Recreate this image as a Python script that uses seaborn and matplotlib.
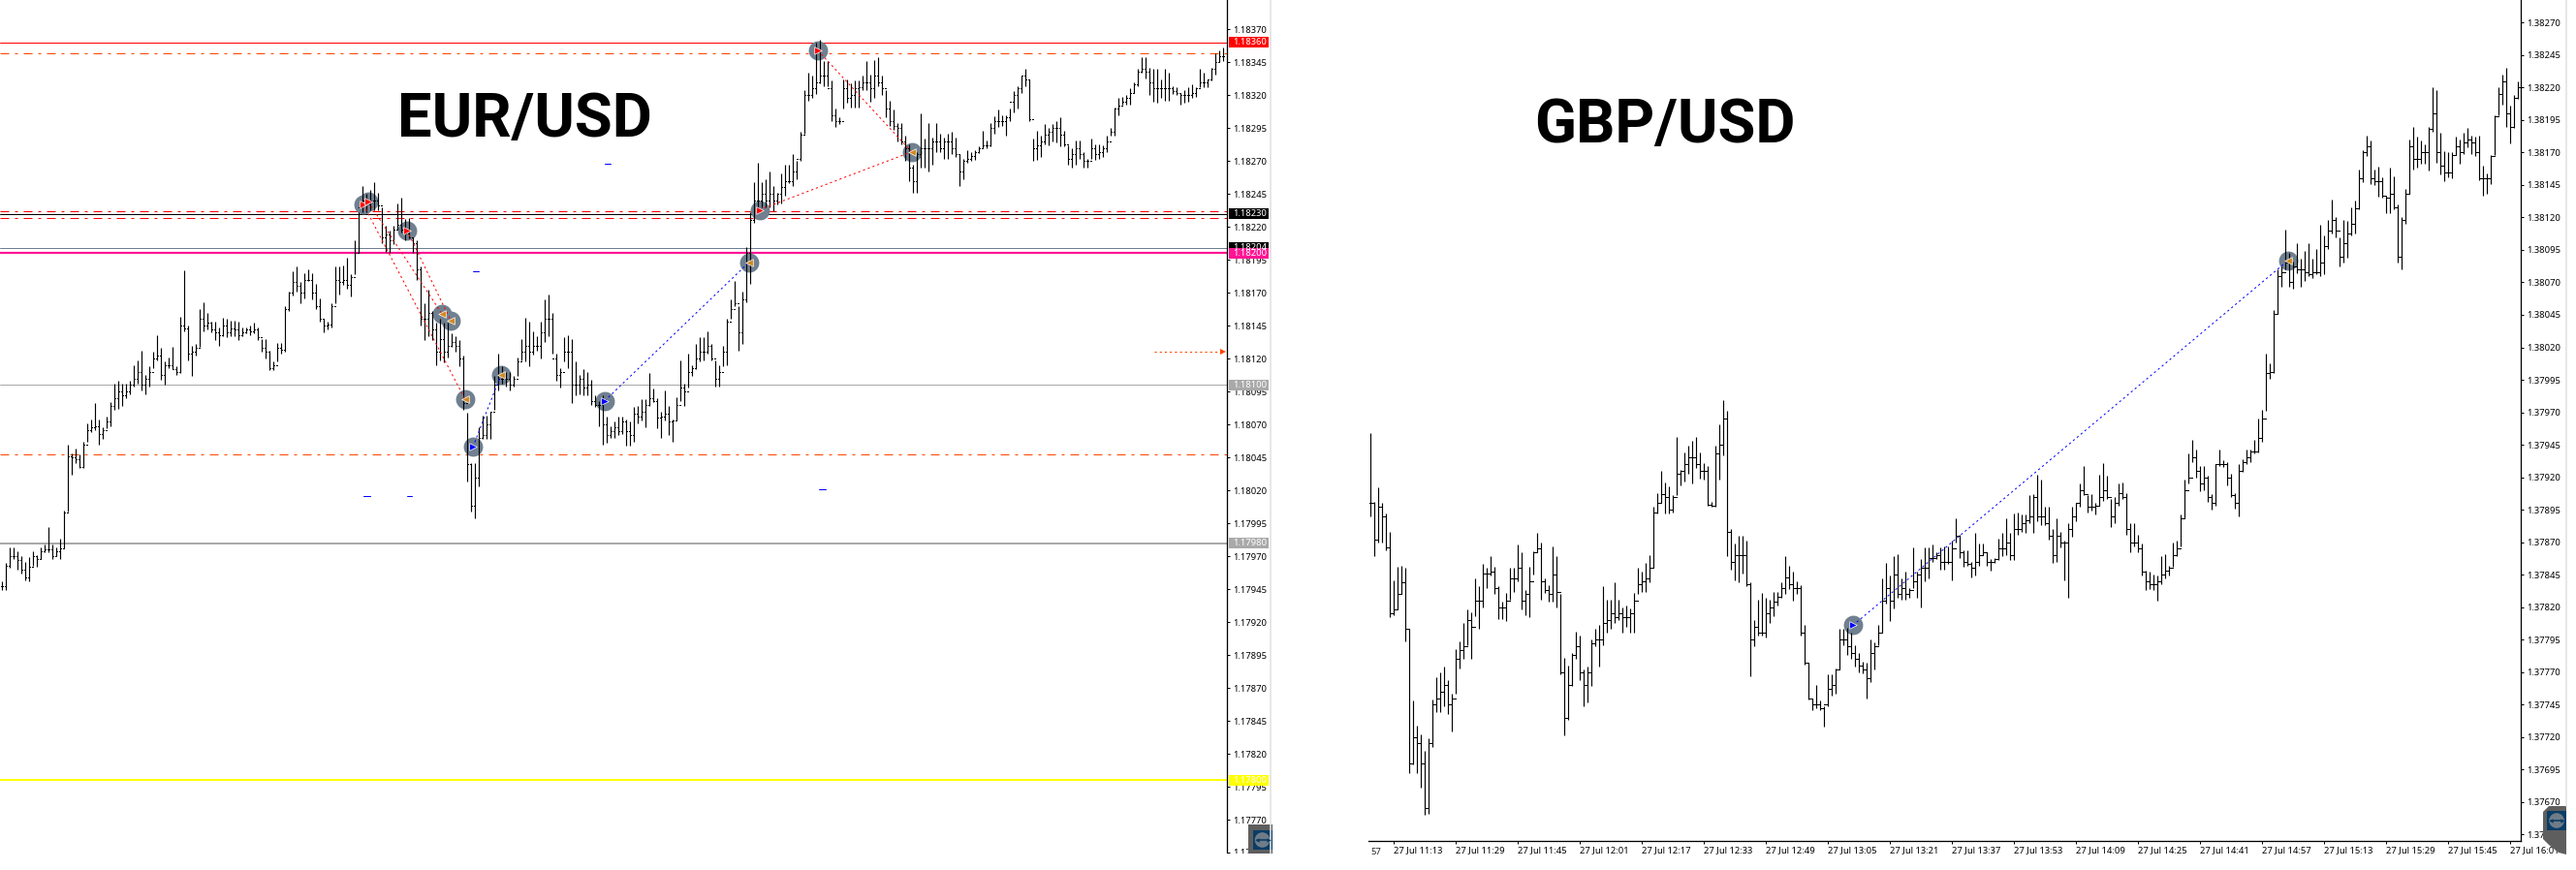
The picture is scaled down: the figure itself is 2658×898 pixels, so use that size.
import numpy as np
import pandas as pd
import matplotlib
matplotlib.use("Agg")
import matplotlib.pyplot as plt
from matplotlib.patches import Rectangle, Circle, Polygon
import seaborn as sns

W, H = 2658, 898

# EUR/USD bars: points above 1.18000
eur_high = [-49,-35,-23,-23,-26,-30,-34,-31,-26,-29,
 -23,-21,-8,-21,-23,-17,5,55,48,52,
 47,57,71,74,86,74,68,76,87,101,
 103,101,101,103,115,119,126,108,114,125,
 138,128,118,121,129,114,152,187,145,130,
 131,158,163,155,148,148,144,151,150,149,
 149,148,144,144,145,147,144,135,135,126,
 118,132,132,160,171,186,190,178,185,188,
 185,177,166,150,148,162,190,190,191,197,
 184,210,231,251,245,248,254,246,235,221,
 217,221,238,242,226,227,212,210,190,162,
 172,156,147,150,147,147,139,137,134,122,
 79,41,41,68,77,77,80,107,124,114,
 110,110,107,121,135,151,148,141,137,148,
 165,169,155,124,113,136,138,135,118,108,
 112,110,104,92,88,92,76,69,72,76,
 76,74,72,83,84,89,89,109,97,90,
 80,96,84,74,91,119,101,124,115,131,
 136,136,141,131,119,115,130,150,165,179,
 160,171,205,231,254,269,254,256,262,251,
 246,261,267,267,275,270,292,324,337,335,
 360,362,346,346,331,310,303,332,332,329,
 331,331,335,346,336,347,349,335,324,316,
 309,299,299,289,283,267,277,306,287,299,
 288,299,291,288,291,292,288,275,272,278,
 277,278,281,293,286,299,304,309,305,305,
 310,323,327,335,340,332,287,293,289,298,
 295,298,300,303,293,282,280,286,286,277,
 272,287,283,283,282,289,295,311,318,319,
 320,325,330,340,349,349,341,340,340,332,
 340,337,327,326,322,324,326,328,326,340,
 337,332,341,352,354,356]
eur_low = [-56,-56,-39,-32,-40,-43,-48,-49,-37,-38,
 -32,-27,-27,-32,-30,-32,-24,4,32,41,
 37,37,57,64,66,55,59,67,69,81,
 82,84,90,93,99,101,96,93,99,113,
 119,104,100,113,112,108,109,141,119,107,
 122,129,141,142,140,134,130,137,136,137,
 137,134,137,139,138,139,134,125,120,111,
 111,118,124,125,156,168,171,162,166,179,
 165,158,148,140,142,144,162,169,176,173,
 167,184,200,231,231,233,233,233,208,201,
 200,207,218,216,210,211,200,180,145,134,
 137,134,115,119,117,121,129,125,114,81,
 27,4,-1,23,59,59,59,81,96,101,
 99,96,99,107,119,118,114,123,126,120,
 133,137,124,103,98,118,113,86,92,93,
 92,92,85,83,69,55,56,60,60,62,
 63,54,54,57,71,73,68,84,87,67,
 60,73,62,57,73,88,84,98,107,112,
 118,119,124,119,99,99,114,115,150,160,
 126,131,163,177,223,233,235,235,235,232,
 237,238,244,253,251,256,270,291,316,318,
 321,329,327,327,300,296,298,310,314,311,
 311,311,324,324,315,318,327,320,303,297,
 294,285,283,270,255,246,246,265,265,262,
 267,277,277,272,272,275,273,251,256,269,
 270,271,276,280,280,281,291,296,297,289,
 300,307,310,322,327,300,270,271,273,283,
 282,285,284,281,281,267,265,267,272,265,
 265,272,271,272,273,277,289,289,305,313,
 313,313,322,327,337,333,320,315,314,318,
 316,316,321,320,313,314,315,318,319,326,
 326,326,331,336,345,346]
eur_close = [-53,-37,-30,-30,-33,-40,-46,-38,-30,-32,
 -26,-25,-25,-30,-26,-24,3,46,45,44,
 38,55,66,68,69,63,66,72,84,90,
 95,92,95,100,105,110,100,105,110,120,
 122,108,115,115,112,110,145,143,124,125,
 128,150,145,147,142,140,138,145,140,143,
 142,138,140,142,141,142,136,128,125,113,
 115,128,127,158,170,178,175,170,180,180,
 170,160,150,145,146,160,180,178,180,176,
 182,200,235,240,237,240,240,236,212,214,
 210,218,222,218,215,212,208,188,150,150,
 155,142,125,135,125,130,133,130,120,86,
 40,8,30,60,62,70,80,100,105,105,
 105,100,105,118,125,130,125,130,130,140,
 150,150,120,108,110,125,125,100,100,105,
 98,100,88,85,85,70,62,65,68,65,
 72,65,62,78,76,80,85,90,88,75,
 76,78,72,73,85,98,95,110,113,120,
 125,125,130,120,105,110,125,148,158,162,
 140,165,200,225,240,240,245,240,245,240,
 245,250,255,255,262,272,290,320,320,325,
 330,335,335,325,305,300,300,325,318,320,
 325,326,330,330,325,335,330,325,310,300,
 297,295,285,280,265,255,275,280,280,280,
 285,285,280,285,285,280,275,262,270,272,
 274,277,280,282,282,295,300,300,300,303,
 315,320,325,335,332,302,280,282,285,290,
 292,295,295,290,283,272,275,280,275,270,
 270,280,275,277,280,285,292,310,312,315,
 318,322,328,338,340,338,330,325,325,325,
 325,325,323,322,320,320,320,322,325,330,
 330,332,340,345,350,350]

# GBP/USD bars: points above 1.37000
gbp_high = [954,901,912,900,892,878,841,851,852,850,
 803,748,729,722,709,719,749,766,770,774,
 764,753,788,794,808,818,816,842,836,853,
 850,859,851,836,824,831,850,850,868,862,
 833,851,863,877,870,842,837,867,859,830,
 781,775,785,801,798,772,774,795,803,806,
 836,826,826,839,826,820,821,819,831,850,
 847,854,860,897,908,925,916,913,906,951,
 926,939,944,948,951,939,931,929,901,944,
 961,979,971,880,869,875,875,871,839,810,
 826,831,827,826,832,832,839,859,852,
 847,840,837,806,777,750,760,748,744,768,768,
 773,803,803,804,800,791,785,778,777,795,
 793,806,842,854,844,859,861,842,847,835,
 866,847,857,866,866,868,862,866,867,867,
 871,888,876,864,864,855,877,869,869,862,
 857,858,873,877,888,877,892,893,891,891,
 906,907,922,918,897,897,880,888,878,871,
 885,897,900,915,929,906,907,900,922,931,
 921,903,905,915,916,908,885,885,876,869,
 848,847,845,844,859,861,852,870,871,891,
 918,938,949,941,929,929,921,907,930,941,
 933,932,923,908,930,934,941,941,949,965,
 972,1015,1008,1049,1080,1082,1111,1093,1086,1100,
 1088,1094,1100,1088,1096,1114,1106,1118,1134,1120,
 1105,1118,1117,1128,1133,1157,1172,1183,1179,1157,
 1159,1151,1137,1158,1152,1130,1120,1142,1180,1190,
 1182,1179,1176,1190,1220,1218,1185,1171,1170,1170,
 1182,1180,1185,1189,1183,1182,1183,1160,1154,1168,
 1199,1220,1230,1235,1206,1214,1225]
gbp_low = [890,859,870,870,864,812,814,818,830,794,
 692,699,692,681,660,661,712,739,739,744,
 738,724,753,773,780,791,780,813,803,820,
 835,844,830,811,811,809,826,832,840,818,
 814,812,845,862,826,831,824,824,820,768,
 721,733,759,780,764,744,747,759,790,774,
 791,800,803,808,810,800,805,800,800,830,
 832,832,839,850,892,900,892,892,893,906,
 914,917,923,915,927,919,918,898,897,897,
 918,937,859,849,841,839,846,836,767,790,
 798,798,797,808,813,821,827,830,834,
 825,830,798,776,749,741,742,741,728,744,752,
 753,772,791,783,780,774,770,769,750,762,
 772,791,800,823,809,819,827,826,826,827,
 835,827,820,840,842,855,857,849,849,853,
 841,870,858,851,852,843,844,852,860,852,
 848,854,856,859,860,856,856,876,878,877,
 885,877,886,883,883,872,854,855,866,841,
 827,874,886,897,906,893,894,891,898,902,
 903,882,885,898,903,876,862,867,862,844,
 833,834,833,825,838,842,844,851,859,867,
 888,915,932,920,909,910,901,895,898,929,
 928,914,905,896,890,924,930,932,938,939,
 947,971,996,1000,1046,1067,1080,1067,1065,1077,
 1067,1071,1075,1073,1076,1075,1076,1096,1108,1105,
 1082,1085,1089,1106,1108,1126,1147,1167,1146,1145,
 1136,1135,1123,1123,1126,1085,1080,1115,1138,1157,
 1158,1161,1161,1156,1186,1162,1153,1148,1151,1150,
 1168,1161,1169,1174,1169,1167,1149,1137,1138,1146,
 1168,1199,1207,1190,1177,1189,1211]
gbp_close = [900,872,897,890,866,815,818,830,839,803,
 700,720,715,700,665,715,745,750,755,760,
 745,750,780,787,790,810,805,825,825,846,
 846,847,835,820,820,825,842,842,850,825,
 830,840,862,865,840,833,830,845,832,770,
 735,760,783,790,770,760,770,792,795,795,
 808,810,815,812,815,812,812,815,825,838,
 840,842,850,893,900,907,905,895,905,923,
 925,930,935,935,930,925,925,899,898,938,
 945,965,878,855,860,860,860,838,795,805,
 800,800,815,820,824,828,835,843,838,
 835,835,800,777,750,745,745,742,745,757,760,
 772,795,795,790,785,780,775,772,765,785,
 790,800,825,835,825,845,830,835,830,833,
 840,845,850,850,858,858,860,855,855,855,
 865,875,862,855,853,850,855,860,862,855,
 855,857,865,865,870,860,880,880,885,887,
 890,905,890,890,885,875,860,875,870,870,
 880,890,900,910,907,897,897,898,905,910,
 905,890,900,908,905,880,870,870,865,847,
 840,838,838,840,845,848,850,860,865,888,
 910,920,935,925,915,920,905,900,930,930,
 930,920,906,900,925,932,935,940,940,950,
 965,1000,1001,1046,1075,1078,1085,1070,1082,1080,
 1080,1078,1076,1078,1078,1085,1098,1110,1118,1110,
 1090,1100,1108,1115,1127,1150,1170,1175,1150,1148,
 1148,1137,1135,1138,1128,1090,1118,1138,1175,1165,
 1165,1170,1170,1188,1200,1170,1160,1155,1155,1168,
 1175,1170,1178,1180,1178,1170,1150,1150,1150,1167,
 1198,1215,1225,1200,1190,1212,1220]

# EUR/USD horizontal levels (price, colour, width in px, style)
eur_levels = [1.18360, 1.18352, 1.18232, 1.18230, 1.18227, 1.18204, 1.18200, 1.18100, 1.18047, 1.17980, 1.17800]
eur_level_colors = ["#ff0000", "#ff4500", "#ff0000", "#000000", "#ff0000", "#708090", "#ff1493", "#a9a9a9", "#ff4500", "#a9a9a9", "#ffff00"]
eur_level_widths = [1, 1, 1, 1, 1, 1, 2.2, 1, 1, 2, 2]
eur_level_dash = [False, True, True, False, True, False, False, False, True, False, False]

eur_tag_prices = [1.18360, 1.18230, 1.18204, 1.18200, 1.18100, 1.17980, 1.17800]
eur_tag_colors = ["#ff0000", "#000000", "#000000", "#ff1493", "#a9a9a9", "#a9a9a9", "#ffff00"]

# Trade markers: bar position, points
eur_mark_x = [93.25, 94.5, 104.5, 113.5, 115.75, 119.5, 128.75, 155.5, 121.5, 192.65, 195.4, 210.5, 234.65]
eur_mark_y = [237, 239, 217.5, 154, 149, 89, 108, 88, 53, 193, 233, 354, 277]
eur_mark_kind = ["buyred", "buyred", "buyred", "exit", "exit", "exit", "exit", "buyblue", "buyblue", "exit", "buyred", "buyred", "exit"]
gbp_mark_x = [124.4, 236.7]
gbp_mark_y = [806, 1087]
gbp_mark_kind = ["buyblue", "exit"]

# Trade links: indices into the marker lists, colour
eur_links = [(0, 5, "#ff0000"), (1, 3, "#ff0000"), (2, 4, "#ff0000"), (8, 6, "#0000ff"),
             (7, 9, "#0000ff"), (10, 12, "#ff0000"), (11, 12, "#ff0000")]

# Short blue level stubs: start bar, end bar, points
stub_start = [155.5, 121.5, 93.25, 104.5, 210.75]
stub_end = [157.0, 123.0, 95.0, 105.75, 212.5]
stub_pts = [268, 186, 16, 15.4, 20.6]

time_labels = ["27 Jul 11:13", "27 Jul 11:29", "27 Jul 11:45", "27 Jul 12:01", "27 Jul 12:17", "27 Jul 12:33",
               "27 Jul 12:49", "27 Jul 13:05", "27 Jul 13:21", "27 Jul 13:37", "27 Jul 13:53", "27 Jul 14:09",
               "27 Jul 14:25", "27 Jul 14:41", "27 Jul 14:57", "27 Jul 15:13", "27 Jul 15:29", "27 Jul 15:45",
               "27 Jul 16:01"]

sns.set_theme(style="white")
plt.rcParams["font.family"] = ["Noto Sans", "DejaVu Sans"]
plt.rcParams["lines.scale_dashes"] = False

PX = 0.72  # one pixel in points at dpi 100
DASHDOT = (0, (9 * PX, 6 * PX, 3 * PX, 6 * PX))
DOTTED = (0, (2.2 * PX, 3 * PX))
LABEL_SIZE = 6.8

fig = plt.figure(figsize=(W / 100, H / 100), dpi=100, facecolor="white")


def make_axes(x0, x1, y0, y1):
    return fig.add_axes([x0 / W, 1 - y1 / H, (x1 - x0) / W, (y1 - y0) / H], facecolor="none")


def ohlc(ax, high, low, close, base):
    high = base + np.array(high) * 1e-5
    low = base + np.array(low) * 1e-5
    close = base + np.array(close) * 1e-5
    opens = np.r_[close[0], close[:-1]]
    x = np.arange(len(high))
    ax.vlines(x, low, high, color="black", lw=1.15 * PX, zorder=4)
    ax.hlines(opens, x - 0.3, x, color="black", lw=PX, zorder=4, antialiased=False)
    ax.hlines(close, x, x + 0.3, color="black", lw=PX, zorder=4, antialiased=False)


def markers(ax, xs, ys, kinds):
    df = pd.DataFrame({"bar": xs, "price": ys, "kind": kinds})
    sns.scatterplot(data=df, x="bar", y="price", ax=ax, s=205, color="#708090", linewidth=0, zorder=3, legend=False)
    styles = {"buyred": (">", "#ff0000", 30), "buyblue": (">", "#0000ff", 30), "exit": ("<", "#d08a20", 30)}
    for kind, (m, col, s) in styles.items():
        sub = df[df.kind == kind]
        if len(sub):
            sns.scatterplot(data=sub, x="bar", y="price", ax=ax, s=s, color=col, marker=m, linewidth=0.5,
                            edgecolor="white", zorder=6, legend=False)
    ax.set_xlabel("")
    ax.set_ylabel("")


def style_y(ax, ticks):
    ax.yaxis.tick_right()
    ax.set_yticks(ticks)
    ax.set_yticklabels([f"{t:.5f}" for t in ticks], fontsize=LABEL_SIZE, color="black")
    ax.tick_params(axis="y", length=3 * PX, width=PX, pad=3.6 * PX, color="black", right=True)
    for s in ["left", "top"]:
        ax.spines[s].set_visible(False)
    ax.spines["right"].set_color("black")
    ax.spines["right"].set_linewidth(1.3 * PX)


# ---------- EUR/USD ----------
ax1 = make_axes(0, 1265.5, 0, 880)
ohlc(ax1, eur_high, eur_low, eur_close, 1.18)
for p, c, w, d in zip(eur_levels, eur_level_colors, eur_level_widths, eur_level_dash):
    ax1.axhline(p, color=c, lw=w * PX, ls=DASHDOT if d else "-", zorder=2)
mx = np.array(eur_mark_x)
my = 1.18 + np.array(eur_mark_y) * 1e-5
markers(ax1, mx, my, eur_mark_kind)
for a, b, c in eur_links:
    ax1.plot([mx[a], mx[b]], [my[a], my[b]], color=c, lw=PX, ls=DOTTED, zorder=5)
for s0, s1, p in zip(stub_start, stub_end, stub_pts):
    ax1.plot([s0, s1], [1.18 + p * 1e-5] * 2, color="#0000ff", lw=PX, zorder=5)
ax1.plot([297.25, 315.0], [1.18125, 1.18125], color="#ff4500", lw=PX, ls=DOTTED, zorder=5)
ax1.plot([315.0], [1.18125], marker=">", ms=4.2, color="#ff4500", mew=0, zorder=5)
ax1.set_xlim(-0.5, 315.875)
ax1.set_ylim(1.177458, 1.183923)
ax1.set_xticks([])
style_y(ax1, [round(1.18370 - 0.00025 * k, 5) for k in range(26)])
ax1.spines["bottom"].set_visible(False)
ax1.text((411 + 672) / 2 / 1265.5, 1 - 141 / 880, "EUR/USD", transform=ax1.transAxes, ha="center", va="baseline",
         fontsize=45.5, fontweight="bold", family="Roboto", color="black", zorder=8)
# Price tags on the axis
tag_half = 5.5 / 34.03 * 0.00025
ytr = ax1.get_yaxis_transform()
for p, c in zip(eur_tag_prices, eur_tag_colors):
    ax1.add_patch(Rectangle((1 + 2 / 1265.5, p - tag_half), 41 / 1265.5, 2 * tag_half, transform=ytr, facecolor=c,
                            edgecolor="none", clip_on=False, zorder=9))
    ax1.text(1 + 6.3 / 1265.5, p, f"{p:.5f}", transform=ytr, fontsize=LABEL_SIZE, color="white", va="center",
             ha="left", clip_on=False, zorder=10)

# ---------- GBP/USD ----------
ax2 = make_axes(1412, 2601, 0, 868)
ohlc(ax2, gbp_high, gbp_low, gbp_close, 1.37)
gx = np.array(gbp_mark_x)
gy = 1.37 + np.array(gbp_mark_y) * 1e-5
markers(ax2, gx, gy, gbp_mark_kind)
ax2.plot(gx, gy, color="#0000ff", lw=PX, ls=DOTTED, zorder=5)
ax2.set_xlim(-0.575, 296.675)
ax2.set_ylim(1.37640, 1.382874)
style_y(ax2, [round(1.38270 - 0.00025 * k, 5) for k in range(26)])
ax2.spines["bottom"].set_color("black")
ax2.spines["bottom"].set_linewidth(1.3 * PX)
xt = [6 + 16 * k for k in range(len(time_labels))]
ax2.set_xticks(xt)
ax2.set_xticklabels(time_labels, fontsize=LABEL_SIZE, ha="left", color="black")
ax2.tick_params(axis="x", length=3 * PX, width=PX, pad=2.2 * PX, color="black", bottom=True)
ax2.text(0, -0.0085, "57", transform=ax2.get_xaxis_transform(), fontsize=LABEL_SIZE, ha="left", va="top")
ax2.text((1587 + 1848) / 2 / W, 1 - 147 / H, "GBP/USD", transform=fig.transFigure, ha="center", va="baseline",
         fontsize=45.5, fontweight="bold", family="Roboto", color="black", zorder=8)

# ---------- Window furniture in pixel space ----------
ov = fig.add_axes([0, 0, 1, 1], facecolor="none", zorder=20)
ov.set_xlim(0, W)
ov.set_ylim(H, 0)
ov.axis("off")
ov.add_patch(Rectangle((1200, 881), 130, 17, facecolor="white", edgecolor="none"))
ov.plot([1311, 1311], [0, 881], color="#e2e2e2", lw=1.6 * PX)
ov.plot([2648, 2648], [0, 832], color="#e2e2e2", lw=1.6 * PX)


def icon(x0, y0, x1, y1, sq, outline=None):
    if outline is None:
        ov.add_patch(Rectangle((x0, y0), x1 - x0, y1 - y0, facecolor="#5e5e5e", edgecolor="none"))
    else:
        ov.add_patch(Polygon(outline, closed=True, facecolor="#5e5e5e", edgecolor="none"))
    sx, sy, ss = sq
    ov.add_patch(Rectangle((sx, sy), ss, ss, facecolor="#0a3d66", edgecolor="none"))
    cx, cy = sx + ss / 2, sy + ss / 2
    ov.add_patch(Circle((cx, cy), ss * 0.39, facecolor="#6f7c88", edgecolor="none"))
    r = ss * 0.3
    ov.plot([cx - r, cx + r], [cy, cy], color="#0a3d66", lw=1.6 * PX)
    ov.plot([cx - r], [cy], marker="<", ms=3.2, color="#0a3d66", mew=0)
    ov.plot([cx + r], [cy], marker=">", ms=3.2, color="#0a3d66", mew=0)


icon(1288, 851, 1313, 881, (1292.5, 857, 20))
icon(0, 0, 0, 0, (2628, 837, 20),
     outline=[(2624, 838), (2630, 832), (2648, 832), (2648, 882), (2640, 880), (2630, 872), (2624, 866)])

fig.savefig("out.png", dpi=100, facecolor="white")
